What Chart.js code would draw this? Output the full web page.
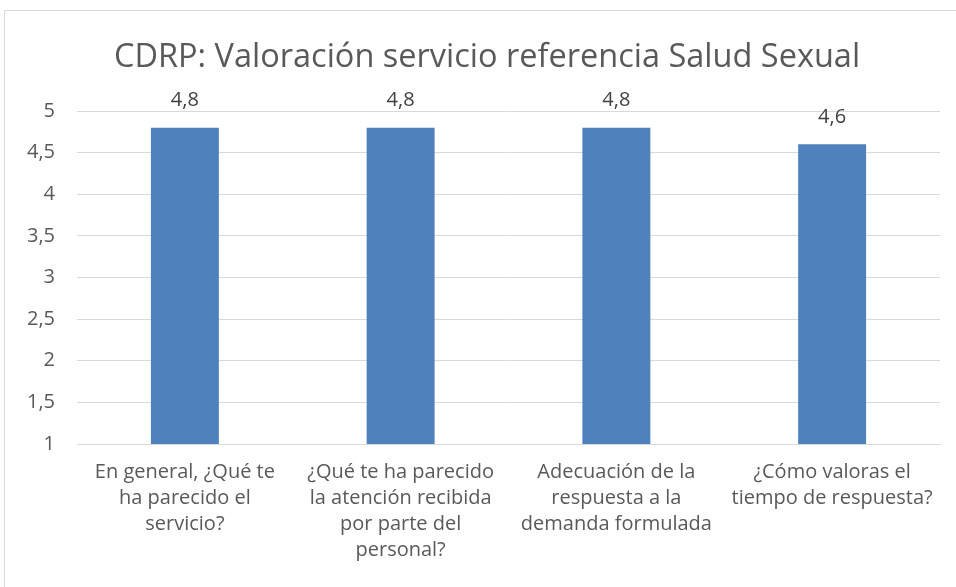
<!DOCTYPE html>
<html>
<head>
<meta charset="utf-8">
<script src="https://cdn.jsdelivr.net/npm/chart.js@4/dist/chart.umd.min.js"></script>
<style>
  html, body { margin: 0; padding: 0; background: #fff; }
  #wrap { position: relative; width: 956px; height: 587px; }
  #frame { position: absolute; left: 4px; top: 10px; width: 960px; height: 600px; border: 1px solid #d9d9d9; box-sizing: border-box; }
  #cc { position: absolute; left: 0; top: 0; }
</style>
</head>
<body>
<div id="wrap">
  <div id="frame"></div>
  <canvas id="cc" width="956" height="587"></canvas>
</div>
<script>
const titleText = "CDRP: Valoración servicio referencia Salud Sexual";
const labels = [
  ["En general, ¿Qué te", "ha parecido el", "servicio?"],
  ["¿Qué te ha parecido", "la atención recibida", "por parte del", "personal?"],
  ["Adecuación de la", "respuesta a la", "demanda formulada"],
  ["¿Cómo valoras el", "tiempo de respuesta?"]
];
const valores = [4.8, 4.8, 4.8, 4.6];
const yMin = 1;
const yMax = 5;
const yStep = 0.5;

const fontFamily = "'Open Sans', 'Liberation Sans', sans-serif";
const grey = "#595959";

function coma(v){
	return String(v).replace(".", ",");
}

// etiquetas de valor encima de cada barra
const barLabels = {
	id: "barLabels",
	afterLayout(chart){
		// el título va centrado en el marco, algo más a la derecha
		if(chart.titleBlock){
			chart.titleBlock.left += 10;
			chart.titleBlock.right += 10;
		}
	},
	afterDatasetsDraw(chart){
		let ctx = chart.ctx;
		let meta = chart.getDatasetMeta(0);
		ctx.save();
		ctx.font = "20px " + fontFamily;
		ctx.fillStyle = "#404040";
		ctx.textAlign = "center";
		ctx.textBaseline = "middle";
		for(let i=0; i<meta.data.length; i++){
			let bar = meta.data[i];
			ctx.fillText(coma(valores[i]), bar.x, bar.y - 27);
		}
		ctx.restore();
	}
};

let chartId = document.getElementById("cc");
let chart = new Chart(chartId, {
	type: "bar",
	data: {
		labels: labels,
		datasets: [
			{
				data: valores,
				backgroundColor: "#4F81BD",
				borderWidth: 0,
				categoryPercentage: 1,
				barPercentage: 0.315
			}
		]
	},
	options: {
		responsive: false,
		animation: false,
		layout: { padding: { left: 14, right: 16, top: 0, bottom: 0 } },
		plugins: {
			legend: { display: false },
			tooltip: { enabled: false },
			title: {
				display: true,
				text: titleText,
				color: grey,
				font: { family: fontFamily, size: 32.5, weight: "normal" },
				padding: { top: 38, bottom: 34 }
			}
		},
		scales: {
			x: {
				grid: { display: false },
				border: { color: "#d9d9d9" },
				ticks: {
					color: grey,
					font: { family: fontFamily, size: 20, lineHeight: 1.3 },
					maxRotation: 0,
					autoSkip: false,
					padding: 7
				},
				afterFit: function(s){ s.height = 143; }
			},
			y: {
				min: yMin,
				max: yMax,
				border: { display: false },
				grid: { color: "#d9d9d9", drawTicks: false },
				ticks: {
					stepSize: yStep,
					color: grey,
					padding: 22,
					font: { family: fontFamily, size: 20 },
					callback: function(v){ return coma(v); }
				},
				afterFit: function(s){ s.width = 63; }
			}
		}
	},
	plugins: [barLabels]
});
</script>
</body>
</html>
